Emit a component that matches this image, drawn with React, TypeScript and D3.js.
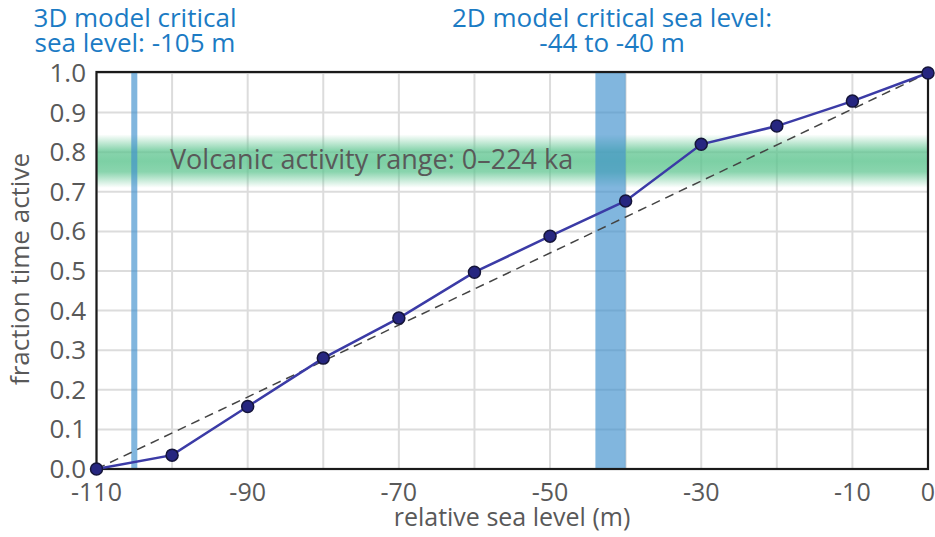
import React from "react";
import * as d3 from "d3";

const seaLevels = [-110, -100, -90, -80, -70, -60, -50, -40, -30, -20, -10, 0];
const fractionActive = [0.0, 0.035, 0.158, 0.28, 0.381, 0.497, 0.588, 0.677, 0.82, 0.866, 0.929, 1.0];
const xTickLabels = [-110, -90, -70, -50, -30, -10, 0];
const xGrid = [-110, -100, -90, -80, -70, -60, -50, -40, -30, -20, -10, 0];
const yTicks = [0, 0.1, 0.2, 0.3, 0.4, 0.5, 0.6, 0.7, 0.8, 0.9, 1.0];
const band3D = [-105.4, -104.6];
const band2D = [-44, -40];
const volcanicRange = [0.71, 0.845];
const refLine = [[-110, 0], [0, 1]];

const W = 935, H = 537;
const L = 96.5, R = 928, T = 73, B = 469;
const FONT = "'Open Sans', 'Noto Sans', sans-serif";

export default function App() {
  const x = d3.scaleLinear().domain([-110, 0]).range([L, R]);
  const y = d3.scaleLinear().domain([0, 1]).range([B, T]);
  const line = d3.line<number>().x((d, i) => x(seaLevels[i])).y((d) => y(d));
  const refPath = d3.line<number[]>().x((d) => x(d[0])).y((d) => y(d[1]))(refLine);
  const gray = "#595959";
  const blueText = "#1b7bc4";
  return (
    <svg width={W} height={H} style={{ position: "absolute", left: 0, top: 0, background: "#fff" }}>
      <defs>
        <linearGradient id="greenBand" x1="0" y1="0" x2="0" y2="1">
          <stop offset="0" stopColor="#5cc48e" stopOpacity="0" />
          <stop offset="0.3" stopColor="#5cc48e" stopOpacity="0.72" />
          <stop offset="0.5" stopColor="#5cc48e" stopOpacity="0.8" />
          <stop offset="0.7" stopColor="#5cc48e" stopOpacity="0.72" />
          <stop offset="1" stopColor="#5cc48e" stopOpacity="0" />
        </linearGradient>
      </defs>
      {xGrid.map((v) => (
        <line key={"gx" + v} x1={x(v)} x2={x(v)} y1={T} y2={B} stroke="#dcdcdc" strokeWidth={2} />
      ))}
      {yTicks.map((v) => (
        <line key={"gy" + v} x1={L} x2={R} y1={y(v)} y2={y(v)} stroke="#dcdcdc" strokeWidth={2} />
      ))}
      <rect x={L} width={R - L} y={y(volcanicRange[1])} height={y(volcanicRange[0]) - y(volcanicRange[1])} fill="url(#greenBand)" />
      <rect x={x(band3D[0])} width={x(band3D[1]) - x(band3D[0])} y={T} height={B - T} fill="#3d8fcc" opacity={0.65} />
      <rect x={x(band2D[0])} width={x(band2D[1]) - x(band2D[0])} y={T} height={B - T} fill="#3d8fcc" opacity={0.65} />
      <text x={170} y={169} fontFamily={FONT} fontSize={27} fill={gray}>Volcanic activity range: 0–224 ka</text>
      <path d={refPath || ""} stroke="#444" strokeWidth={1.5} strokeDasharray="9,6" fill="none" />
      <rect x={L} y={T - 1} width={R - L} height={B - T + 1} fill="none" stroke="#1a1a1a" strokeWidth={2.2} />
      <path d={line(fractionActive) || ""} stroke="#3b3ba6" strokeWidth={2.5} fill="none" />
      {fractionActive.map((v, i) => (
        <circle key={"p" + i} cx={x(seaLevels[i])} cy={y(v)} r={6} fill="#262680" stroke="#15153a" strokeWidth={1.5} />
      ))}
      {yTicks.map((v) => (
        <text key={"yt" + v} x={86} y={y(v) + 9} textAnchor="end" fontFamily={FONT} fontSize={26} fill={gray}>{v.toFixed(1)}</text>
      ))}
      {xTickLabels.map((v) => (
        <text key={"xt" + v} x={x(v)} y={501} textAnchor="middle" fontFamily={FONT} fontSize={25} fill={gray}>{v}</text>
      ))}
      <text x={512} y={526} textAnchor="middle" fontFamily={FONT} fontSize={25} fill={gray}>relative sea level (m)</text>
      <text transform={`translate(29,269) rotate(-90)`} textAnchor="middle" fontFamily={FONT} fontSize={26} fill={gray}>fraction time active</text>
      <text x={135} y={27} textAnchor="middle" fontFamily={FONT} fontSize={26} fill={blueText}>3D model critical</text>
      <text x={135} y={52} textAnchor="middle" fontFamily={FONT} fontSize={26} fill={blueText}>sea level: -105 m</text>
      <text x={612} y={27} textAnchor="middle" fontFamily={FONT} fontSize={26} fill={blueText}>2D model critical sea level:</text>
      <text x={612} y={52} textAnchor="middle" fontFamily={FONT} fontSize={26} fill={blueText}>-44 to -40 m</text>
    </svg>
  );
}
